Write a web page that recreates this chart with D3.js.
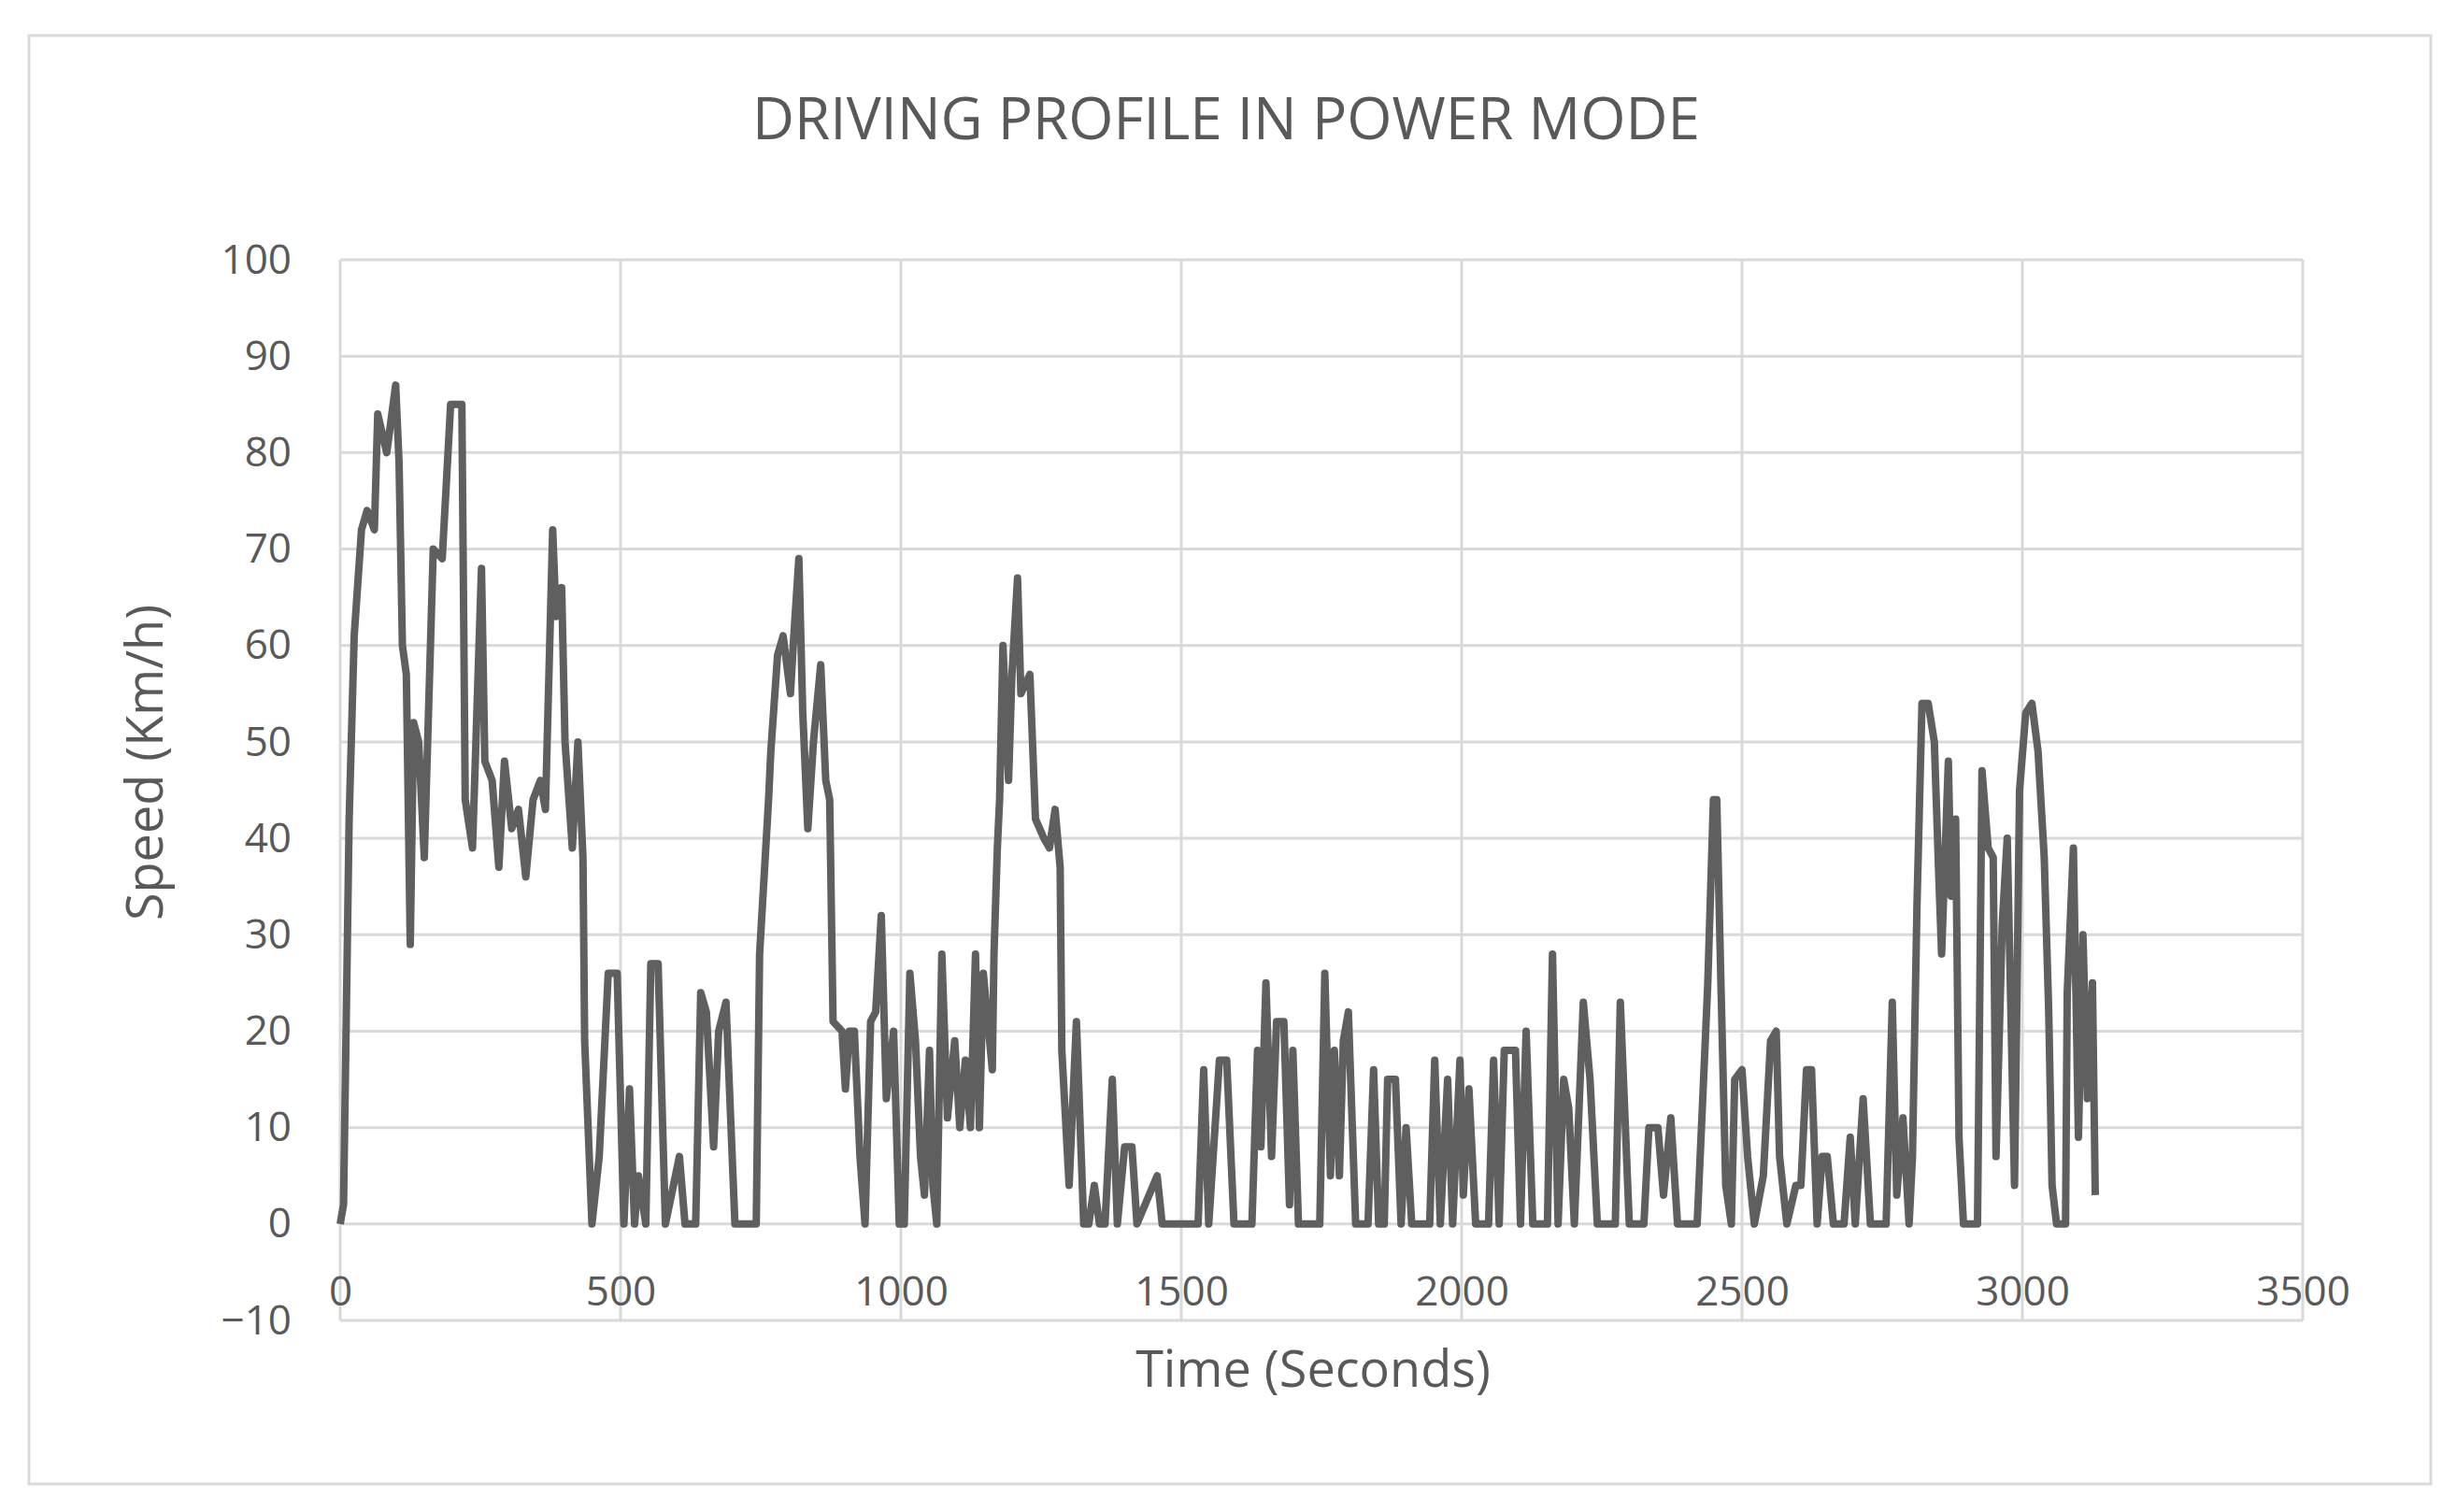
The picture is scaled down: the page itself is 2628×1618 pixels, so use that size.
<!DOCTYPE html>
<html>
<head>
<meta charset="utf-8">
<script src="https://cdn.jsdelivr.net/npm/d3@7"></script>
<style>
  body { margin: 0; background: #fff; }
  text { font-family: "Open Sans", sans-serif; fill: #595959; }
</style>
</head>
<body>
<div class="chart-container"></div>
<script>
const title = 'DRIVING PROFILE IN POWER MODE';
const xTicks = [0, 500, 1000, 1500, 2000, 2500, 3000, 3500];
const yTicks = [-10, 0, 10, 20, 30, 40, 50, 60, 70, 80, 90, 100];

// time (s) and speed (km/h)
const times = [0, 6, 16, 25, 38, 48, 61, 67, 83, 99, 105, 111, 118, 125, 131, 140, 150, 156, 166, 182, 197, 217, 223, 236, 252, 258, 271, 283, 293, 306, 318, 331, 344, 357, 366, 379, 385, 395, 401, 414, 424, 433, 436, 449, 462, 478, 494, 506, 516, 525, 532, 545, 554, 567, 580, 605, 615, 634, 643, 653, 666, 675, 688, 704, 742, 748, 764, 768, 780, 790, 803, 809, 818, 825, 834, 844, 857, 866, 873, 879, 895, 901, 908, 917, 927, 936, 946, 955, 965, 974, 987, 997, 1006, 1016, 1026, 1035, 1042, 1051, 1057, 1064, 1073, 1083, 1096, 1105, 1115, 1124, 1133, 1140, 1147, 1163, 1166, 1172, 1176, 1182, 1192, 1198, 1208, 1214, 1230, 1240, 1255, 1265, 1275, 1284, 1287, 1300, 1313, 1326, 1335, 1345, 1354, 1364, 1377, 1386, 1399, 1412, 1421, 1457, 1466, 1530, 1540, 1549, 1568, 1581, 1594, 1626, 1636, 1642, 1651, 1661, 1670, 1683, 1693, 1699, 1709, 1747, 1756, 1766, 1773, 1782, 1789, 1798, 1811, 1833, 1843, 1852, 1862, 1868, 1882, 1892, 1901, 1911, 1943, 1952, 1962, 1975, 1984, 1997, 2003, 2013, 2025, 2048, 2057, 2067, 2076, 2096, 2105, 2115, 2127, 2153, 2162, 2172, 2182, 2191, 2201, 2217, 2229, 2242, 2274, 2283, 2299, 2325, 2334, 2350, 2360, 2373, 2385, 2420, 2430, 2439, 2449, 2455, 2462, 2471, 2481, 2487, 2500, 2510, 2522, 2538, 2551, 2561, 2567, 2580, 2596, 2605, 2615, 2624, 2634, 2643, 2652, 2663, 2682, 2693, 2702, 2716, 2729, 2757, 2768, 2776, 2787, 2798, 2804, 2812, 2821, 2832, 2843, 2851, 2856, 2868, 2873, 2881, 2887, 2895, 2920, 2928, 2939, 2948, 2953, 2964, 2973, 2981, 2986, 2995, 3006, 3017, 3028, 3039, 3047, 3053, 3061, 3077, 3080, 3091, 3100, 3108, 3116, 3125, 3130];
const speeds = [0, 2, 42, 61, 72, 74, 72, 84, 80, 87, 79, 60, 57, 29, 52, 50, 38, 50, 70, 69, 85, 85, 44, 39, 68, 48, 46, 37, 48, 41, 43, 36, 44, 46, 43, 72, 63, 66, 50, 39, 50, 38, 19, 0, 7, 26, 26, 0, 14, 0, 5, 0, 27, 27, 0, 7, 0, 0, 24, 22, 8, 20, 23, 0, 0, 28, 44, 49, 59, 61, 55, 61, 69, 53, 41, 50, 58, 46, 44, 21, 20, 14, 20, 20, 7, 0, 21, 22, 32, 13, 20, 0, 0, 26, 19, 7, 3, 18, 4, 0, 28, 11, 19, 10, 17, 10, 28, 10, 26, 16, 28, 39, 44, 60, 46, 57, 67, 55, 57, 42, 40, 39, 43, 37, 18, 4, 21, 0, 0, 4, 0, 0, 15, 0, 8, 8, 0, 5, 0, 0, 16, 0, 17, 17, 0, 0, 18, 8, 25, 7, 21, 21, 2, 18, 0, 0, 26, 5, 18, 5, 19, 22, 0, 0, 16, 0, 0, 15, 15, 0, 10, 0, 0, 17, 0, 15, 0, 17, 3, 14, 0, 0, 17, 0, 18, 18, 0, 20, 0, 0, 28, 0, 15, 12, 0, 23, 15, 0, 0, 23, 0, 0, 10, 10, 3, 11, 0, 0, 13, 25, 44, 44, 26, 4, 0, 15, 16, 7, 0, 5, 19, 20, 7, 0, 4, 4, 16, 16, 0, 7, 7, 0, 0, 9, 0, 13, 0, 0, 23, 3, 11, 0, 7, 33, 54, 54, 50, 36, 28, 48, 34, 42, 9, 0, 0, 47, 39, 38, 7, 31, 40, 18, 4, 45, 53, 54, 49, 38, 22, 4, 0, 0, 24, 39, 9, 30, 13, 25, 3];

const lineData = times.map((t, i) => ({ time: t, speed: speeds[i] }));

const W = 2628, H = 1618;
const svg = d3.select('.chart-container')
  .append('svg')
  .attr('width', W)
  .attr('height', H);

// outer frame
svg.append('rect')
  .attr('x', 31).attr('y', 38)
  .attr('width', 2570).attr('height', 1550)
  .attr('fill', 'none')
  .attr('stroke', '#d9d9d9')
  .attr('stroke-width', 3);

svg.append('text')
  .attr('x', 1312).attr('y', 132)
  .attr('text-anchor', 'middle')
  .attr('dominant-baseline', 'middle')
  .attr('font-size', 62)
  .text(title);

const xScale = d3.scaleLinear().domain([0, 3500]).range([364, 2464]);
const yScale = d3.scaleLinear().domain([-10, 100]).range([1413, 278]);

// gridlines
const grid = svg.append('g');
grid.selectAll('.hg').data(yTicks).join('line')
  .attr('x1', xScale(0)).attr('x2', xScale(3500))
  .attr('y1', d => yScale(d)).attr('y2', d => yScale(d))
  .attr('stroke', '#d9d9d9').attr('stroke-width', 3);
grid.selectAll('.vg').data(xTicks).join('line')
  .attr('x1', d => xScale(d)).attr('x2', d => xScale(d))
  .attr('y1', yScale(100)).attr('y2', yScale(-10))
  .attr('stroke', '#d9d9d9').attr('stroke-width', 3);

// y axis labels
const yAxisGroup = svg.append('g')
  .attr('transform', `translate(${xScale(0)}, 0)`)
  .call(d3.axisLeft(yScale).tickValues(yTicks).tickSize(0).tickPadding(52));
yAxisGroup.select('.domain').remove();
yAxisGroup.selectAll('text').attr('font-size', 44).style('font-family', '"Open Sans", sans-serif').attr('fill', '#595959');

// x axis labels sit at the zero line
const xAxisGroup = svg.append('g')
  .attr('transform', `translate(0, ${yScale(0)})`)
  .call(d3.axisBottom(xScale).tickValues(xTicks).tickSize(0).tickPadding(56).tickFormat(d3.format('d')));
xAxisGroup.select('.domain').remove();
xAxisGroup.selectAll('text').attr('font-size', 44).style('font-family', '"Open Sans", sans-serif').attr('fill', '#595959');

const line = d3.line()
  .x(d => xScale(d.time))
  .y(d => yScale(d.speed));

svg.append('path')
  .datum(lineData)
  .attr('fill', 'none')
  .attr('stroke', '#5f5f5f')
  .attr('stroke-width', 8)
  .attr('stroke-linejoin', 'round')
  .attr('d', line);

svg.append('text')
  .attr('transform', 'translate(160, 816) rotate(-90)')
  .attr('text-anchor', 'middle')
  .attr('dominant-baseline', 'middle')
  .attr('font-size', 54)
  .text('Speed (Km/h)');

svg.append('text')
  .attr('x', 1405).attr('y', 1470)
  .attr('text-anchor', 'middle')
  .attr('dominant-baseline', 'middle')
  .attr('font-size', 54)
  .text('Time (Seconds)');
</script>
</body>
</html>
